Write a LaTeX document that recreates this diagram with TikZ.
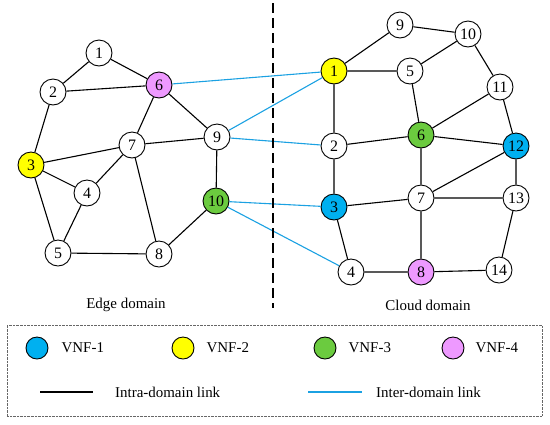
\documentclass[tikz,border=0pt]{standalone}
\usepackage{fontspec}
\setmainfont{Liberation Serif}
\usetikzlibrary{positioning}

\definecolor{vnfblue}{RGB}{0,176,240}
\definecolor{vnfyellow}{RGB}{255,255,0}
\definecolor{vnfgreen}{RGB}{107,203,63}
\definecolor{vnfpink}{RGB}{238,153,255}
\definecolor{interblue}{RGB}{27,161,226}

\begin{document}
\begin{tikzpicture}[x=1bp, y=-1bp,
  vm/.style={circle,draw=black,fill=white,line width=0.9bp,minimum size=26bp,inner sep=0pt,font=\fontsize{16}{16}\selectfont},
  legc/.style={circle,draw=black,line width=0.9bp,minimum size=22bp,inner sep=0pt},
  intra/.style={black,line width=1.1bp},
  inter/.style={interblue,line width=1.1bp},
  lbl/.style={font=\fontsize{15}{15}\selectfont,inner sep=0pt}
]
  \useasboundingbox (0,0) rectangle (550,424);

  % edge domain
  \node[vm] (e1) at (99,53)  {1};
  \node[vm] (e2) at (53,92)  {2};
  \node[vm,fill=vnfyellow] (e3) at (31,165) {3};
  \node[vm] (e4) at (87,193) {4};
  \node[vm] (e5) at (58,253) {5};
  \node[vm,fill=vnfpink] (e6) at (159,85) {6};
  \node[vm] (e7) at (132,145) {7};
  \node[vm] (e8) at (159,254) {8};
  \node[vm] (e9) at (217,137) {9};
  \node[vm,fill=vnfgreen] (e10) at (216,201) {10};

  % cloud domain
  \node[vm,fill=vnfyellow] (c1) at (334,71) {1};
  \node[vm] (c2) at (334,146) {2};
  \node[vm,fill=vnfblue] (c3) at (334,207) {3};
  \node[vm] (c4) at (351,272) {4};
  \node[vm] (c5) at (410,71) {5};
  \node[vm,fill=vnfgreen] (c6) at (421,135) {6};
  \node[vm] (c7) at (421,198) {7};
  \node[vm,fill=vnfpink] (c8) at (421,272) {8};
  \node[vm] (c9) at (400,25) {9};
  \node[vm] (c10) at (468,34) {10};
  \node[vm] (c11) at (500,87) {11};
  \node[vm,fill=vnfblue] (c12) at (516,146) {12};
  \node[vm] (c13) at (516,198) {13};
  \node[vm] (c14) at (499,270) {14};

  \draw[intra] (e1)--(e2) (e1)--(e6) (e2)--(e6) (e2)--(e3) (e3)--(e7) (e3)--(e4)
    (e3)--(e5) (e4)--(e7) (e4)--(e5) (e5)--(e8) (e6)--(e7) (e6)--(e9)
    (e7)--(e9) (e7)--(e8) (e9)--(e10) (e8)--(e10);
  \draw[intra] (c1)--(c9) (c9)--(c10) (c10)--(c5) (c10)--(c11) (c1)--(c5) (c1)--(c2)
    (c5)--(c6) (c11)--(c6) (c11)--(c12) (c2)--(c6) (c6)--(c12) (c6)--(c7)
    (c2)--(c3) (c3)--(c7) (c7)--(c12) (c7)--(c13) (c12)--(c13) (c3)--(c4)
    (c7)--(c8) (c4)--(c8) (c8)--(c14) (c13)--(c14);
  \draw[inter] (e6)--(c1) (e9)--(c1) (e9)--(c2) (e10)--(c3) (e10)--(c4);

  % domain split
  \coordinate (top) at (273,3);
  \coordinate (bot) at (273,308);
  \draw[line width=1.1bp,dash pattern=on 10bp off 5bp] (top)--(bot);
  \node[lbl] (edge) at (126,305) {Edge domain};
  \node[lbl] (cloud) at (428,305) {Cloud domain};

  % legend
  \node[draw=black!60,densely dotted,minimum width=535bp,minimum height=91bp,inner sep=0pt] (leg) at (274.5,370.5) {};
  \node[legc,fill=vnfblue] (l1) at (37,348) {};
  \node[lbl,right=13bp of l1] (t1) {VNF-1};
  \node[legc,fill=vnfyellow] (l2) at (183,348) {};
  \node[lbl,right=12bp of l2] (t2) {VNF-2};
  \node[legc,fill=vnfgreen] (l3) at (325,348) {};
  \node[lbl,right=12bp of l3] (t3) {VNF-3};
  \node[legc,fill=vnfpink] (l4) at (453,348) {};
  \node[lbl,right=11bp of l4] (t4) {VNF-4};
  \coordinate (a1) at (40,392);
  \coordinate (b1) at (93,392);
  \draw[intra] (a1)--(b1);
  \node[lbl,anchor=west] (t5) at (115,392) {Intra-domain link};
  \coordinate (a2) at (308,392);
  \coordinate (b2) at (362,392);
  \draw[inter] (a2)--(b2);
  \node[lbl,anchor=west] (t6) at (376,392) {Inter-domain link};
\end{tikzpicture}
\end{document}
